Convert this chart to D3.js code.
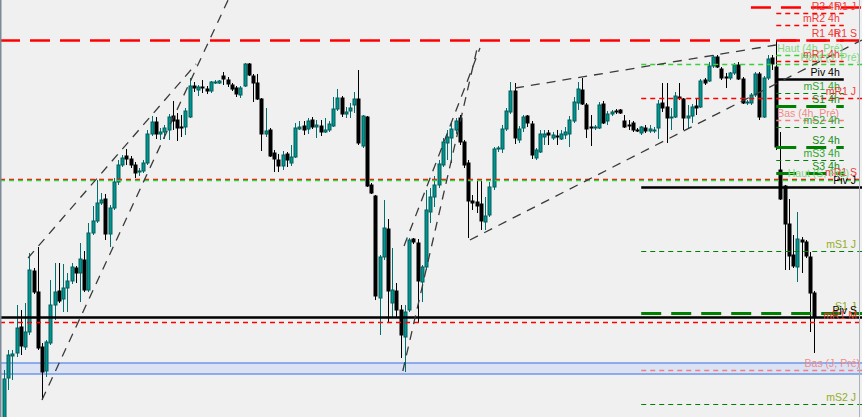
<!DOCTYPE html>
<html><head><meta charset="utf-8">
<script src="https://cdn.jsdelivr.net/npm/d3@7"></script>
<style>html,body{margin:0;padding:0;background:#f0f0f0;overflow:hidden}svg{display:block}</style>
</head><body>
<svg id="c" width="862" height="417"></svg>
<script>
// ---- candle data (M15 bars, arbitrary price units) ----
const opens = [
0,42,64,67,93,73,88,149,128,73,
49,77,115,129,121,132,139,152,147,160,
130,187,199,217,221,186,212,238,255,264,
261,255,248,249,257,286,298,286,288,290,
304,300,293,293,303,334,330,333,331,329,
337,337,344,340,335,332,325,334,356,344,
337,321,286,290,267,260,254,266,257,263,
291,294,291,300,293,294,288,290,294,311,
322,306,309,315,321,274,303,235,224,122,
163,191,117,129,110,83,110,181,177,138,
153,208,223,235,255,277,282,290,302,278,
257,219,218,216,198,205,233,271,271,291,
308,329,280,292,304,296,262,268,283,287,
282,284,281,285,286,299,317,330,315,293,
292,292,316,299,306,309,310,299,295,297,
290,287,292,289,289,292,317,313,302,303,
323,321,302,304,314,313,340,339,354,363,
351,343,342,347,355,341,317,317,325,346,
303,342,362,353,250,234,196,165,153,180,
178,163,127];
const highs = [
50,70,70,115,110,117,167,152,173,77,
80,140,157,157,156,147,157,154,177,169,
197,214,240,227,226,215,242,260,265,271,
264,258,252,260,290,304,303,292,295,306,
319,307,305,312,342,338,335,340,334,339,
340,340,348,343,337,334,334,357,357,346,
346,322,312,292,270,266,269,268,275,297,
299,299,302,303,300,300,302,299,323,331,
324,313,317,328,350,305,304,237,225,165,
220,201,172,137,115,115,182,182,181,155,
230,232,244,260,282,290,298,302,305,280,
260,225,240,240,223,238,273,274,295,312,
338,337,294,305,305,299,272,290,290,290,
288,290,290,293,304,323,338,342,317,305,
295,318,319,309,310,311,311,305,300,299,
292,294,295,295,293,320,337,337,312,328,
337,322,315,316,322,341,342,358,365,365,
353,347,348,357,358,343,320,327,348,348,
344,365,365,380,288,235,221,185,208,183,
180,168,129];
const lows = [
-5,30,40,63,65,70,85,126,70,20,
43,75,100,117,108,108,136,137,118,128,
128,185,197,215,180,173,210,235,253,255,
252,242,244,247,255,284,281,280,281,280,
290,279,283,285,302,328,324,327,326,327,
336,336,335,333,329,323,322,333,344,318,
320,269,283,263,248,248,250,253,254,262,
290,285,286,291,282,284,287,288,293,309,
303,302,302,307,275,272,233,226,120,85,
160,98,102,102,62,48,108,176,97,118,
150,197,213,232,253,260,257,286,275,252,
182,210,207,190,190,203,230,268,267,289,
306,276,277,288,293,261,260,267,275,275,
280,275,280,281,273,297,310,315,282,274,
290,291,296,295,304,306,306,292,290,288,
288,285,287,287,287,281,308,277,290,302,
320,290,291,297,305,312,335,338,352,352,
340,332,340,345,340,316,315,315,323,300,
302,340,350,270,220,150,150,152,138,147,
162,88,67];
const closes = [
41,65,66,92,74,88,150,128,72,48,
78,115,128,119,132,139,153,147,161,130,
187,199,217,220,186,212,238,255,262,261,
255,247,249,257,286,298,286,288,292,303,
299,292,292,309,334,332,333,332,329,338,
338,339,341,336,331,326,332,356,345,337,
321,286,289,264,261,254,265,260,263,292,
293,290,299,293,295,288,290,296,311,322,
306,308,312,321,277,304,234,227,124,163,
192,129,130,110,85,108,180,178,139,153,
210,223,235,256,278,283,291,299,278,255,
219,217,214,199,204,233,271,272,291,309,
329,282,291,303,297,265,270,286,286,285,
285,283,286,288,300,318,331,316,291,292,
293,315,297,306,308,308,307,293,294,290,
289,293,289,291,290,316,312,302,303,324,
322,302,304,313,312,339,337,354,363,353,
342,342,347,355,341,317,318,325,346,303,
342,361,356,273,221,196,164,154,181,178,
164,127,103];

// ---- session boundaries (bar indices) ----
const dayStart = 151;
const h4Start = 183;
const h4End = 199;

// ---- pivot / high-low levels ----
const levelNames  = ["R1 J","R2 4h","mR2 4h","R1 4h","Haut (4h, Pré)","mR1 4h","Piv 4h","mS1 4h","S1 4h","Bas (4h, Pré)","mS2 4h","S2 4h","mS3 4h","S3 4h",
                     "Haut (J, Pré)","mR1 J","Piv J","mS1 J","S1 J","Bas (J, Pré)","mS2 J",
                     "R1 S","mR1 S","Haut (S, Pré)","Piv S","mR1 M"];
const levelPrices = [413,407,395,380,365,359,341,327,314,300,293,273,260,247,
                     356,322,233,169,107,50,16,
                     380,241,240,103,98];
const levelScopes = ["J","4h","4h","4h","4h","4h","4h","4h","4h","4h","4h","4h","4h","4h",
                     "J","J","J","J","J","J","J",
                     "S","S","S","S","S"];
const levelKinds  = ["R","mR","mR","R","haut","mR","piv","mS","S","bas","mS","S","mS","S",
                     "haut","mR","piv","mS","S","bas","mS",
                     "R","mR","haut","piv","mR"];
// first bar of each drawn segment (null = session default)
const levelFirstBar = [177,null,null,null,null,null,null,null,null,null,null,null,null,null,
                       null,null,null,null,null,null,null,
                       null,null,null,null,null];

// ---- zone (rectangle) ----
const zoneTop = 57, zoneBottom = 46;

// ---- trend lines: [barIndex1, price1, barIndex2, price2] ----
const trendLines = [
  [9.0, 20, 53.1, 420],
  [5.7, 162, 45.5, 356],
  [94.5, 49, 112.3, 375],
  [94.8, 174, 112.8, 372],
  [110.4, 180, 203.3, 380],
  [121.1, 332, 182.9, 375]
];

// ================= drawing =================
const W = 862, H = 417;
const svg = d3.select("#c");
const N = opens.length;
const x = d3.scaleLinear().domain([0, N - 1]).range([4, 4 + (N - 1) * 4.22]);
const y = d3.scaleLinear().domain([0, 420]).range([420, 0]);

svg.append("rect").attr("width", W).attr("height", H).attr("fill", "#f0f0f0");

// zone
svg.append("rect").attr("x", 0).attr("width", W)
  .attr("y", y(zoneTop)).attr("height", y(zoneBottom) - y(zoneTop))
  .attr("fill", "#dbe2f4");
[zoneTop, zoneBottom].forEach(p => svg.append("line")
  .attr("x1", 0).attr("x2", W).attr("y1", y(p)).attr("y2", y(p))
  .attr("stroke", "#6f97ea").attr("stroke-width", 1.5));

// candles
const data = d3.range(N).map(i => ({i, o: opens[i], h: highs[i], l: lows[i], c: closes[i]}));
const cg = svg.append("g");
data.forEach(d => {
  const bull = d.c > d.o;
  const cx = Math.round(x(d.i)) + 0.5;
  cg.append("line").attr("x1", cx).attr("x2", cx)
    .attr("y1", y(d.h)).attr("y2", y(d.l))
    .attr("stroke", bull ? "#00706e" : "#000").attr("stroke-width", 1);
  const top = y(Math.max(d.o, d.c)), bot = y(Math.min(d.o, d.c));
  cg.append("rect").attr("x", cx - 1.5).attr("width", 3)
    .attr("y", top).attr("height", Math.max(1, bot - top))
    .attr("fill", bull ? "#009590" : "#000")
    .attr("stroke", bull ? "#005e5c" : "#000").attr("stroke-width", 1);
});

// level lines
const kindStyle = {
  R:    {stroke: "#ff0000", w: 2.5, dash: "20,10"},
  mR:   {stroke: "#ff0000", w: 1.5, dash: "5,4"},
  piv:  {stroke: "#000000", w: 2.5, dash: null},
  S:    {stroke: "#008000", w: 3,   dash: "20,10"},
  mS:   {stroke: "#008000", w: 1.2, dash: "5,4"},
  haut: {stroke: "#36d236", w: 1.5, dash: "5,4"},
  bas:  {stroke: "#f08080", w: 1.5, dash: "5,4"}
};
const lg = svg.append("g");
levelPrices.forEach((p, k) => {
  const sc = levelScopes[k], st = kindStyle[levelKinds[k]];
  let x1, x2;
  if (sc === "4h") { x1 = x(h4Start); x2 = x(h4End); }
  else if (sc === "J") { x1 = x(dayStart); x2 = W; }
  else { x1 = 0; x2 = W; }
  if (levelFirstBar[k] !== null) x1 = x(levelFirstBar[k]);
  const ln = lg.append("line").attr("x1", x1).attr("x2", x2)
    .attr("y1", Math.round(y(p)) + 0.5).attr("y2", Math.round(y(p)) + 0.5)
    .attr("stroke", st.stroke).attr("stroke-width", st.w);
  if (st.dash) ln.attr("stroke-dasharray", st.dash);
});

// trend lines
const tg = svg.append("g");
trendLines.forEach(t => {
  tg.append("line").attr("x1", x(t[0])).attr("y1", y(t[1]))
    .attr("x2", x(t[2])).attr("y2", y(t[3]))
    .attr("stroke", "#3a3a3a").attr("stroke-width", 1.3)
    .attr("stroke-dasharray", "9,7");
});

// frame
svg.append("line").attr("x1", 0.75).attr("x2", 0.75).attr("y1", 0).attr("y2", H)
  .attr("stroke", "#7d8b99").attr("stroke-width", 1.5);
svg.append("line").attr("x1", 859.5).attr("x2", 859.5).attr("y1", 0).attr("y2", H)
  .attr("stroke", "#a9b1b9").attr("stroke-width", 1);

// labels
const labelColor = (kind, scope) => {
  if (kind === "R" || kind === "mR") return "#f03a3a";
  if (kind === "piv") return "#000";
  if (kind === "haut") return "#80d880";
  if (kind === "bas") return "#f08a8a";
  if (scope === "4h") return kind === "S" ? "#148c14" : "#2ea52e";
  return "#93ad1e";
};
const txt = svg.append("g").attr("font-family", "Liberation Sans, Arial, sans-serif").attr("font-size", "10.5px");
levelNames.forEach((name, k) => {
  const sc = levelScopes[k], kind = levelKinds[k];
  let xa, anchor = "end";
  if (sc === "4h") {
    if (kind === "haut" || kind === "bas") { xa = x(h4Start) + 1; anchor = "start"; }
    else xa = x(h4End) - 4;
  } else if (sc === "J") {
    xa = (kind === "haut" || kind === "bas") ? 860 : 856;
  } else {
    xa = (kind === "haut") ? 849 : 857;
  }
  const ty = Math.max(10, y(levelPrices[k]) - 3);
  txt.append("text").attr("x", xa).attr("y", ty)
    .attr("text-anchor", anchor).attr("fill", labelColor(kind, sc)).text(name);
});
</script>
</body></html>
